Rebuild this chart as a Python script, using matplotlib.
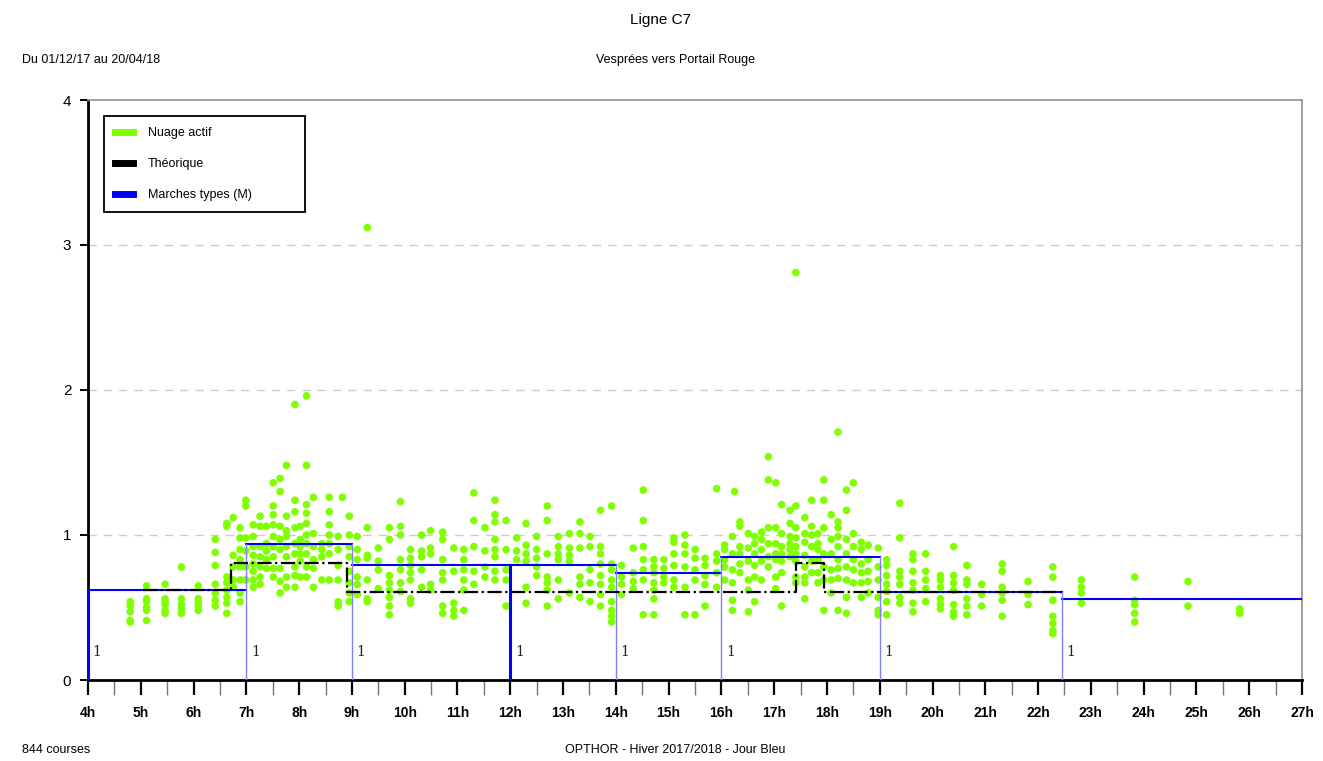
import matplotlib
matplotlib.use('Agg')
import matplotlib.pyplot as plt
from matplotlib.lines import Line2D
import numpy as np

plt.rcParams['font.family'] = ['Liberation Sans Narrow', 'Liberation Sans', 'DejaVu Sans']

# ----------------------------
# Données : nuage actif (colonnes par heure de départ)
# ----------------------------
matin_h = [4.80, 5.11, 5.46, 5.77, 6.09, 6.41, 6.63, 6.75, 6.88, 6.99, 7.13, 7.26, 7.38,
           7.51, 7.64, 7.76, 7.92, 8.02, 8.14, 8.27, 8.43, 8.57, 8.74, 8.82, 8.95]
matin_v = [
    [0.54, 0.51, 0.47, 0.41, 0.40],
    [0.65, 0.56, 0.54, 0.50, 0.48, 0.41],
    [0.66, 0.56, 0.54, 0.52, 0.48, 0.46],
    [0.78, 0.56, 0.52, 0.49, 0.46],
    [0.65, 0.56, 0.54, 0.51, 0.48],
    [0.97, 0.88, 0.79, 0.66, 0.60, 0.55, 0.51],
    [1.08, 1.06, 0.71, 0.67, 0.62, 0.57, 0.53, 0.46],
    [1.12, 0.86, 0.78, 0.69, 0.64],
    [1.05, 0.98, 0.90, 0.83, 0.78, 0.69, 0.60, 0.54],
    [1.24, 1.20, 0.98, 0.89, 0.78, 0.69],
    [1.07, 0.99, 0.92, 0.86, 0.80, 0.75, 0.69, 0.64],
    [1.13, 1.06, 0.92, 0.85, 0.78, 0.71, 0.66],
    [1.06, 0.94, 0.89, 0.83, 0.77],
    [1.36, 1.20, 1.14, 1.07, 0.99, 0.92, 0.85, 0.77, 0.71],
    [1.39, 1.30, 1.06, 0.97, 0.90, 0.77, 0.68, 0.60],
    [1.48, 1.13, 1.03, 0.99, 0.92, 0.85, 0.71, 0.64],
    [1.90, 1.24, 1.16, 1.05, 0.94, 0.87, 0.78, 0.72, 0.64],
    [1.06, 0.97, 0.92, 0.87, 0.82, 0.71],
    [1.96, 1.48, 1.21, 1.15, 1.08, 1.00, 0.94, 0.87, 0.78, 0.71],
    [1.26, 1.01, 0.92, 0.83, 0.77, 0.64],
    [0.94, 0.90, 0.85, 0.69],
    [1.26, 1.16, 1.07, 1.00, 0.94, 0.87, 0.69],
    [0.99, 0.90, 0.79, 0.69, 0.54, 0.51],
    [1.26],
    [1.13, 1.00, 0.92, 0.85, 0.75, 0.67, 0.60, 0.54],
]

journee_h = [9.10, 9.29, 9.50, 9.71, 9.92, 10.11, 10.32, 10.49, 10.72, 10.93, 11.12, 11.31,
             11.52, 11.71, 11.92, 12.12, 12.30, 12.50, 12.70, 12.91, 13.12, 13.32, 13.51,
             13.71, 13.92, 14.11, 14.33, 14.52, 14.72, 14.91, 15.10, 15.31, 15.50, 15.69, 15.91]
journee_v = [
    [0.99, 0.90, 0.83, 0.71, 0.66, 0.59],
    [3.12, 1.05, 0.86, 0.84, 0.69, 0.56, 0.54],
    [0.91, 0.82, 0.76, 0.63],
    [1.05, 0.97, 0.72, 0.67, 0.62, 0.57, 0.51, 0.45],
    [1.23, 1.06, 1.00, 0.83, 0.76, 0.67, 0.61],
    [0.90, 0.84, 0.79, 0.74, 0.69, 0.56, 0.53],
    [1.00, 0.89, 0.85, 0.76, 0.64],
    [1.03, 0.91, 0.87, 0.66, 0.62],
    [1.02, 0.97, 0.83, 0.74, 0.69, 0.51, 0.46],
    [0.91, 0.75, 0.53, 0.48, 0.44],
    [0.90, 0.83, 0.76, 0.69, 0.62, 0.48],
    [1.29, 1.10, 0.92, 0.75, 0.66],
    [1.05, 0.89, 0.78, 0.71],
    [1.24, 1.14, 1.09, 0.97, 0.90, 0.85, 0.75, 0.69],
    [1.10, 0.90, 0.76, 0.69, 0.51],
    [0.98, 0.89, 0.83],
    [1.08, 0.93, 0.87, 0.82, 0.64, 0.53],
    [0.99, 0.90, 0.84, 0.78, 0.72],
    [1.20, 1.10, 0.87, 0.71, 0.67, 0.62, 0.51],
    [0.99, 0.92, 0.87, 0.83, 0.69, 0.56],
    [1.01, 0.91, 0.86, 0.82, 0.60],
    [1.09, 1.01, 0.91, 0.71, 0.66, 0.57],
    [0.99, 0.92, 0.76, 0.67, 0.54],
    [1.17, 0.92, 0.87, 0.80, 0.72, 0.66, 0.59, 0.51],
    [1.20, 0.80, 0.76, 0.69, 0.64, 0.54, 0.48, 0.44, 0.40],
    [0.79, 0.71, 0.66, 0.59],
    [0.91, 0.74, 0.68, 0.63],
    [1.31, 1.10, 0.92, 0.83, 0.76, 0.69, 0.45],
    [0.83, 0.78, 0.74, 0.67, 0.62, 0.56, 0.45],
    [0.83, 0.77, 0.71, 0.67],
    [0.98, 0.95, 0.87, 0.79, 0.69, 0.64],
    [1.00, 0.93, 0.87, 0.78, 0.64, 0.45],
    [0.90, 0.84, 0.76, 0.69, 0.45],
    [0.84, 0.79, 0.72, 0.66, 0.51],
    [1.32, 0.87, 0.82, 0.74, 0.64],
]

soir_h = [16.06, 16.21, 16.25, 16.35, 16.51, 16.63, 16.76, 16.89, 17.03, 17.14, 17.30, 17.41,
          17.58, 17.71, 17.83, 17.94, 18.08, 18.21, 18.37, 18.50, 18.65, 18.78, 18.97]
soir_v = [
    [0.93, 0.90, 0.83, 0.78, 0.69],
    [0.99, 0.87, 0.76, 0.67, 0.55, 0.48],
    [1.30],
    [1.09, 1.06, 0.92, 0.87, 0.80, 0.74],
    [1.01, 0.91, 0.82, 0.69, 0.62, 0.47],
    [0.99, 0.94, 0.87, 0.79, 0.71, 0.54],
    [1.02, 0.97, 0.90, 0.82, 0.69],
    [1.54, 1.38, 1.05, 0.94, 0.85, 0.78],
    [1.36, 1.05, 0.94, 0.87, 0.83, 0.71, 0.63],
    [1.21, 1.01, 0.92, 0.87, 0.82, 0.74, 0.51],
    [1.17, 1.08, 0.99, 0.94, 0.90, 0.85],
    [2.81, 1.20, 1.05, 0.98, 0.92, 0.87, 0.82, 0.71, 0.67],
    [1.12, 1.01, 0.95, 0.86, 0.78, 0.71, 0.67, 0.56],
    [1.24, 1.06, 1.00, 0.92, 0.82, 0.74],
    [1.01, 0.94, 0.90, 0.83, 0.74, 0.67],
    [1.38, 1.24, 1.05, 0.87, 0.78, 0.69, 0.48],
    [1.14, 0.97, 0.87, 0.76, 0.69, 0.60],
    [1.71, 1.09, 1.05, 0.99, 0.92, 0.83, 0.77, 0.70, 0.48],
    [1.31, 1.17, 0.97, 0.87, 0.78, 0.69, 0.57, 0.46],
    [1.36, 1.01, 0.92, 0.83, 0.76, 0.67],
    [0.95, 0.90, 0.80, 0.74, 0.67, 0.57],
    [0.93, 0.83, 0.75, 0.68, 0.60],
    [0.91, 0.78, 0.69, 0.57, 0.48, 0.45],
]

nuit_h = [19.13, 19.38, 19.63, 19.87, 20.15, 20.40, 20.65, 20.93, 21.32, 21.81, 22.28,
          22.82, 23.83, 24.84, 25.82]
nuit_v = [
    [0.83, 0.79, 0.72, 0.66, 0.61, 0.54, 0.45],
    [1.22, 0.98, 0.75, 0.71, 0.66, 0.57, 0.53],
    [0.87, 0.83, 0.75, 0.67, 0.62, 0.53, 0.47],
    [0.87, 0.75, 0.69, 0.63, 0.54],
    [0.72, 0.69, 0.64, 0.56, 0.52, 0.49],
    [0.92, 0.72, 0.67, 0.62, 0.52, 0.47, 0.44],
    [0.79, 0.69, 0.66, 0.56, 0.51, 0.45],
    [0.66, 0.59, 0.51],
    [0.80, 0.75, 0.64, 0.60, 0.55, 0.44],
    [0.68, 0.59, 0.52],
    [0.78, 0.71, 0.55, 0.44, 0.39, 0.34, 0.32],
    [0.69, 0.64, 0.60, 0.53],
    [0.71, 0.55, 0.52, 0.46, 0.40],
    [0.68, 0.51],
    [0.49, 0.46],
]

# Marches types (M) : bornes horaires et valeurs
marche_h = [4, 7, 9, 12, 14, 16, 19, 22.45, 27]
marche_v = [0.62, 0.94, 0.79, 0.79, 0.74, 0.85, 0.61, 0.56]
marche_lbl = ['1', '1', '1', '1', '1', '1', '1', '1']
marche_fortes = [4, 12]

# Théorique
theo_h = [5.05, 6.70, 8.90, 17.42, 17.94, 22.45]
theo_v = [0.62, 0.81, 0.61, 0.81, 0.61]

heures = list(range(4, 28))
heures_lbl = [f'{h}h' for h in heures]

# ----------------------------
# Figure
# ----------------------------
fig = plt.figure(figsize=(13.23, 7.61), dpi=100)
ax = fig.add_axes([88/1323, 1 - 680/761, (1302-88)/1323, (680-100)/761])

x_pts, y_pts = [], []
for hs, vs in [(matin_h, matin_v), (journee_h, journee_v), (soir_h, soir_v), (nuit_h, nuit_v)]:
    for h, col in zip(hs, vs):
        x_pts += [h] * len(col)
        y_pts += col
ax.scatter(x_pts, y_pts, s=30, color='#7fff00', edgecolors='none', zorder=2)

# marches types : paliers + verticales
for i in range(len(marche_v)):
    ax.plot([marche_h[i], marche_h[i+1]], [marche_v[i], marche_v[i]], color='#0000ff', lw=1.5, zorder=4)
for i in range(len(marche_h) - 1):
    haut = marche_v[i] if i == 0 else max(marche_v[i-1], marche_v[i])
    if marche_h[i] in marche_fortes:
        ax.plot([marche_h[i]] * 2, [0, haut], color='#0000ff', lw=2.2, zorder=4)
    else:
        ax.plot([marche_h[i]] * 2, [0, haut], color='#8080ff', lw=1.0, zorder=4)
    ax.text(marche_h[i] + 0.09, 0.19, marche_lbl[i], fontsize=10, family='DejaVu Serif',
            va='center', ha='left', color='#222222')

# théorique (pas)
tx, ty = [], []
for i in range(len(theo_v)):
    tx += [theo_h[i], theo_h[i+1]]
    ty += [theo_v[i], theo_v[i]]
ax.plot(tx, ty, color='black', lw=1.6, ls='-.', zorder=5)

ax.set_xlim(4, 27)
ax.set_ylim(0, 4)
ax.set_yticks([0, 1, 2, 3, 4])
ax.set_yticklabels(['0', '1', '2', '3', '4'])
ax.set_xticks(heures)
ax.set_xticklabels(heures_lbl, fontweight='bold')
ax.set_xticks(np.arange(4.5, 27, 1), minor=True)
ax.tick_params(axis='x', which='major', length=11, width=1.6, pad=8, labelsize=10, direction='out')
ax.tick_params(axis='x', which='minor', length=11, width=1.0, color='#777777', direction='out')
ax.tick_params(axis='y', length=6, width=1.4, pad=6, labelsize=11)
for yv in [1, 2, 3]:
    ax.axhline(yv, color='#cccccc', lw=1, ls=(0, (6, 5)), zorder=1)

ax.spines['left'].set_linewidth(2)
ax.spines['bottom'].set_linewidth(2)
for s in ['top', 'right']:
    ax.spines[s].set_color('#999999')
    ax.spines[s].set_linewidth(1.3)

handles = [Line2D([], [], color='#7fff00', lw=5),
           Line2D([], [], color='black', lw=5),
           Line2D([], [], color='#0000ff', lw=5)]
leg = ax.legend(handles, ['Nuage actif', 'Théorique', 'Marches types (M)'],
                loc='upper left', bbox_to_anchor=(0.013, 0.80, 0.166, 0.172), mode='expand',
                borderaxespad=0, fancybox=False, framealpha=1, edgecolor='black', fontsize=9,
                handlelength=1.4, handletextpad=1.2, labelspacing=1.5, borderpad=0.9)
leg.get_frame().set_linewidth(1.3)

fig.text(661/1323, 1 - 20/761, 'Ligne C7', ha='center', va='center', fontsize=11)
fig.text(22/1323, 1 - 60/761, 'Du 01/12/17 au 20/04/18', ha='left', va='center', fontsize=9)
fig.text(675/1323, 1 - 60/761, 'Vesprées vers Portail Rouge', ha='center', va='center', fontsize=9)
fig.text(22/1323, 1 - 750/761, '844 courses', ha='left', va='center', fontsize=9)
fig.text(675/1323, 1 - 750/761, 'OPTHOR - Hiver 2017/2018 - Jour Bleu', ha='center', va='center', fontsize=9)

fig.savefig('out.png', dpi=100)
